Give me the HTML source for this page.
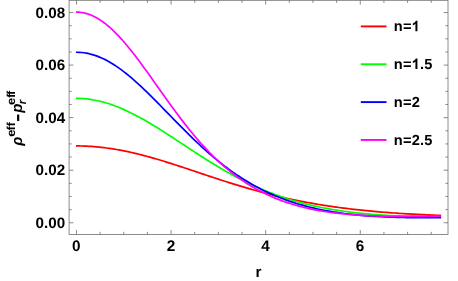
<!DOCTYPE html>
<html><head><meta charset="utf-8"><title>plot</title>
<style>
html,body{margin:0;padding:0;background:#fff;}
body{width:458px;height:281px;overflow:hidden;}
svg{display:block;will-change:transform;}
text{font-family:"Liberation Sans",sans-serif;font-weight:bold;fill:#000;text-rendering:geometricPrecision;}
</style></head>
<body>
<svg width="458" height="281" viewBox="0 0 458 281">
<rect x="0" y="0" width="458" height="281" fill="#ffffff"/>
<g transform="translate(0,0.2)"><path d="M76.0,145.75 L76.5,145.75 L79.0,145.77 L81.5,145.81 L84.0,145.88 L86.5,145.98 L89.0,146.11 L91.5,146.27 L94.0,146.45 L96.5,146.66 L99.0,146.90 L101.5,147.17 L104.0,147.46 L106.5,147.78 L109.0,148.12 L111.5,148.49 L114.0,148.89 L116.5,149.31 L119.0,149.75 L121.5,150.22 L124.0,150.71 L126.5,151.22 L129.0,151.75 L131.5,152.31 L134.0,152.88 L136.5,153.48 L139.0,154.09 L141.5,154.72 L144.0,155.37 L146.5,156.04 L149.0,156.72 L151.5,157.41 L154.0,158.13 L156.5,158.85 L159.0,159.59 L161.5,160.34 L164.0,161.10 L166.5,161.88 L169.0,162.66 L171.5,163.45 L174.0,164.25 L176.5,165.06 L179.0,165.87 L181.5,166.70 L184.0,167.52 L186.5,168.35 L189.0,169.18 L191.5,170.02 L194.0,170.86 L196.5,171.69 L199.0,172.53 L201.5,173.37 L204.0,174.21 L206.5,175.04 L209.0,175.88 L211.5,176.71 L214.0,177.54 L216.5,178.36 L219.0,179.18 L221.5,179.99 L224.0,180.79 L226.5,181.59 L229.0,182.39 L231.5,183.17 L234.0,183.95 L236.5,184.72 L239.0,185.48 L241.5,186.23 L244.0,186.98 L246.5,187.71 L249.0,188.44 L251.5,189.15 L254.0,189.85 L256.5,190.55 L259.0,191.23 L261.5,191.90 L264.0,192.56 L266.5,193.21 L269.0,193.85 L271.5,194.48 L274.0,195.10 L276.5,195.70 L279.0,196.30 L281.5,196.88 L284.0,197.45 L286.5,198.01 L289.0,198.56 L291.5,199.10 L294.0,199.63 L296.5,200.14 L299.0,200.65 L301.5,201.14 L304.0,201.62 L306.5,202.10 L309.0,202.56 L311.5,203.01 L314.0,203.45 L316.5,203.88 L319.0,204.30 L321.5,204.70 L324.0,205.10 L326.5,205.49 L329.0,205.87 L331.5,206.24 L334.0,206.60 L336.5,206.95 L339.0,207.29 L341.5,207.63 L344.0,207.95 L346.5,208.26 L349.0,208.57 L351.5,208.87 L354.0,209.16 L356.5,209.44 L359.0,209.71 L361.5,209.98 L364.0,210.24 L366.5,210.49 L369.0,210.73 L371.5,210.97 L374.0,211.20 L376.5,211.42 L379.0,211.63 L381.5,211.84 L384.0,212.04 L386.5,212.24 L389.0,212.43 L391.5,212.61 L394.0,212.79 L396.5,212.96 L399.0,213.13 L401.5,213.29 L404.0,213.44 L406.5,213.59 L409.0,213.74 L411.5,213.88 L414.0,214.02 L416.5,214.15 L419.0,214.27 L421.5,214.39 L424.0,214.51 L426.5,214.62 L429.0,214.73 L431.5,214.84 L434.0,214.94 L436.5,215.03 L439.0,215.13 L441.1,215.20" stroke="#ff0000" stroke-width="1.7" fill="none" stroke-linejoin="round"/><path d="M76.0,98.18 L76.5,98.18 L79.0,98.21 L81.5,98.31 L84.0,98.47 L86.5,98.70 L89.0,99.00 L91.5,99.36 L94.0,99.78 L96.5,100.26 L99.0,100.81 L101.5,101.42 L104.0,102.09 L106.5,102.81 L109.0,103.59 L111.5,104.43 L114.0,105.32 L116.5,106.27 L119.0,107.26 L121.5,108.31 L124.0,109.40 L126.5,110.54 L129.0,111.72 L131.5,112.94 L134.0,114.21 L136.5,115.51 L139.0,116.85 L141.5,118.22 L144.0,119.62 L146.5,121.06 L149.0,122.52 L151.5,124.01 L154.0,125.53 L156.5,127.06 L159.0,128.62 L161.5,130.19 L164.0,131.78 L166.5,133.39 L169.0,135.01 L171.5,136.63 L174.0,138.27 L176.5,139.91 L179.0,141.56 L181.5,143.21 L184.0,144.86 L186.5,146.51 L189.0,148.15 L191.5,149.79 L194.0,151.43 L196.5,153.06 L199.0,154.68 L201.5,156.28 L204.0,157.88 L206.5,159.46 L209.0,161.03 L211.5,162.58 L214.0,164.11 L216.5,165.62 L219.0,167.12 L221.5,168.59 L224.0,170.05 L226.5,171.48 L229.0,172.89 L231.5,174.27 L234.0,175.63 L236.5,176.97 L239.0,178.28 L241.5,179.57 L244.0,180.83 L246.5,182.07 L249.0,183.27 L251.5,184.46 L254.0,185.61 L256.5,186.74 L259.0,187.84 L261.5,188.92 L264.0,189.97 L266.5,190.99 L269.0,191.99 L271.5,192.96 L274.0,193.90 L276.5,194.82 L279.0,195.71 L281.5,196.58 L284.0,197.42 L286.5,198.24 L289.0,199.03 L291.5,199.80 L294.0,200.54 L296.5,201.26 L299.0,201.96 L301.5,202.64 L304.0,203.29 L306.5,203.92 L309.0,204.53 L311.5,205.12 L314.0,205.69 L316.5,206.24 L319.0,206.77 L321.5,207.28 L324.0,207.78 L326.5,208.25 L329.0,208.70 L331.5,209.14 L334.0,209.56 L336.5,209.97 L339.0,210.35 L341.5,210.73 L344.0,211.08 L346.5,211.42 L349.0,211.75 L351.5,212.06 L354.0,212.36 L356.5,212.65 L359.0,212.92 L361.5,213.18 L364.0,213.42 L366.5,213.66 L369.0,213.88 L371.5,214.09 L374.0,214.29 L376.5,214.48 L379.0,214.66 L381.5,214.83 L384.0,214.99 L386.5,215.14 L389.0,215.28 L391.5,215.41 L394.0,215.54 L396.5,215.65 L399.0,215.76 L401.5,215.86 L404.0,215.95 L406.5,216.04 L409.0,216.12 L411.5,216.19 L414.0,216.25 L416.5,216.31 L419.0,216.37 L421.5,216.41 L424.0,216.45 L426.5,216.49 L429.0,216.52 L431.5,216.54 L434.0,216.57 L436.5,216.58 L439.0,216.59 L441.1,216.60" stroke="#00ff00" stroke-width="1.7" fill="none" stroke-linejoin="round"/><path d="M76.0,52.06 L76.5,52.06 L79.0,52.12 L81.5,52.29 L84.0,52.58 L86.5,52.98 L89.0,53.50 L91.5,54.13 L94.0,54.87 L96.5,55.71 L99.0,56.67 L101.5,57.73 L104.0,58.90 L106.5,60.17 L109.0,61.53 L111.5,62.99 L114.0,64.55 L116.5,66.19 L119.0,67.92 L121.5,69.73 L124.0,71.62 L126.5,73.59 L129.0,75.62 L131.5,77.73 L134.0,79.89 L136.5,82.11 L139.0,84.39 L141.5,86.71 L144.0,89.08 L146.5,91.49 L149.0,93.94 L151.5,96.41 L154.0,98.92 L156.5,101.44 L159.0,103.98 L161.5,106.54 L164.0,109.10 L166.5,111.68 L169.0,114.25 L171.5,116.82 L174.0,119.39 L176.5,121.94 L179.0,124.48 L181.5,127.01 L184.0,129.52 L186.5,132.01 L189.0,134.47 L191.5,136.91 L194.0,139.32 L196.5,141.70 L199.0,144.04 L201.5,146.35 L204.0,148.63 L206.5,150.86 L209.0,153.06 L211.5,155.22 L214.0,157.33 L216.5,159.41 L219.0,161.44 L221.5,163.42 L224.0,165.37 L226.5,167.27 L229.0,169.12 L231.5,170.93 L234.0,172.70 L236.5,174.42 L239.0,176.09 L241.5,177.72 L244.0,179.31 L246.5,180.85 L249.0,182.35 L251.5,183.80 L254.0,185.22 L256.5,186.58 L259.0,187.91 L261.5,189.20 L264.0,190.44 L266.5,191.65 L269.0,192.82 L271.5,193.94 L274.0,195.03 L276.5,196.09 L279.0,197.10 L281.5,198.09 L284.0,199.03 L286.5,199.94 L289.0,200.82 L291.5,201.67 L294.0,202.48 L296.5,203.27 L299.0,204.02 L301.5,204.74 L304.0,205.44 L306.5,206.11 L309.0,206.75 L311.5,207.36 L314.0,207.95 L316.5,208.51 L319.0,209.05 L321.5,209.57 L324.0,210.06 L326.5,210.53 L329.0,210.98 L331.5,211.41 L334.0,211.82 L336.5,212.21 L339.0,212.58 L341.5,212.93 L344.0,213.27 L346.5,213.59 L349.0,213.89 L351.5,214.17 L354.0,214.44 L356.5,214.70 L359.0,214.94 L361.5,215.16 L364.0,215.38 L366.5,215.58 L369.0,215.76 L371.5,215.94 L374.0,216.10 L376.5,216.25 L379.0,216.40 L381.5,216.53 L384.0,216.65 L386.5,216.76 L389.0,216.86 L391.5,216.96 L394.0,217.04 L396.5,217.12 L399.0,217.19 L401.5,217.25 L404.0,217.30 L406.5,217.35 L409.0,217.39 L411.5,217.42 L414.0,217.45 L416.5,217.47 L419.0,217.49 L421.5,217.50 L424.0,217.51 L426.5,217.51 L429.0,217.50 L431.5,217.49 L434.0,217.48 L436.5,217.46 L439.0,217.44 L441.1,217.42" stroke="#0000ff" stroke-width="1.7" fill="none" stroke-linejoin="round"/><path d="M76.0,11.93 L76.5,11.93 L79.0,12.02 L81.5,12.29 L84.0,12.73 L86.5,13.36 L89.0,14.16 L91.5,15.13 L94.0,16.28 L96.5,17.59 L99.0,19.07 L101.5,20.70 L104.0,22.50 L106.5,24.44 L109.0,26.53 L111.5,28.76 L114.0,31.12 L116.5,33.61 L119.0,36.23 L121.5,38.96 L124.0,41.79 L126.5,44.73 L129.0,47.76 L131.5,50.87 L134.0,54.06 L136.5,57.32 L139.0,60.65 L141.5,64.02 L144.0,67.44 L146.5,70.90 L149.0,74.39 L151.5,77.91 L154.0,81.44 L156.5,84.97 L159.0,88.51 L161.5,92.04 L164.0,95.56 L166.5,99.07 L169.0,102.55 L171.5,106.00 L174.0,109.42 L176.5,112.80 L179.0,116.14 L181.5,119.43 L184.0,122.67 L186.5,125.86 L189.0,128.99 L191.5,132.07 L194.0,135.08 L196.5,138.03 L199.0,140.92 L201.5,143.74 L204.0,146.49 L206.5,149.18 L209.0,151.79 L211.5,154.34 L214.0,156.82 L216.5,159.24 L219.0,161.58 L221.5,163.85 L224.0,166.06 L226.5,168.20 L229.0,170.27 L231.5,172.28 L234.0,174.22 L236.5,176.10 L239.0,177.92 L241.5,179.67 L244.0,181.37 L246.5,183.00 L249.0,184.58 L251.5,186.10 L254.0,187.56 L256.5,188.97 L259.0,190.33 L261.5,191.63 L264.0,192.89 L266.5,194.10 L269.0,195.26 L271.5,196.37 L274.0,197.43 L276.5,198.46 L279.0,199.44 L281.5,200.38 L284.0,201.28 L286.5,202.14 L289.0,202.97 L291.5,203.75 L294.0,204.51 L296.5,205.23 L299.0,205.91 L301.5,206.56 L304.0,207.19 L306.5,207.78 L309.0,208.35 L311.5,208.88 L314.0,209.39 L316.5,209.88 L319.0,210.34 L321.5,210.78 L324.0,211.19 L326.5,211.58 L329.0,211.95 L331.5,212.30 L334.0,212.63 L336.5,212.94 L339.0,213.23 L341.5,213.50 L344.0,213.76 L346.5,214.00 L349.0,214.22 L351.5,214.43 L354.0,214.63 L356.5,214.81 L359.0,214.97 L361.5,215.13 L364.0,215.27 L366.5,215.40 L369.0,215.52 L371.5,215.63 L374.0,215.73 L376.5,215.82 L379.0,215.90 L381.5,215.97 L384.0,216.03 L386.5,216.08 L389.0,216.13 L391.5,216.16 L394.0,216.19 L396.5,216.22 L399.0,216.23 L401.5,216.24 L404.0,216.25 L406.5,216.25 L409.0,216.24 L411.5,216.23 L414.0,216.21 L416.5,216.19 L419.0,216.17 L421.5,216.14 L424.0,216.10 L426.5,216.06 L429.0,216.02 L431.5,215.98 L434.0,215.93 L436.5,215.88 L439.0,215.83 L441.1,215.78" stroke="#ff00ff" stroke-width="1.7" fill="none" stroke-linejoin="round"/></g>
<rect x="69.08" y="0.3" width="378.92" height="234.11999999999998" fill="none" stroke="#666666" stroke-width="0.75"/>
<path d="M76.48,234.42 v-4.4 M76.48,0.3 v4.4 M100.13,234.42 v-2.6 M100.13,0.3 v2.6 M123.78,234.42 v-2.6 M123.78,0.3 v2.6 M147.43,234.42 v-2.6 M147.43,0.3 v2.6 M171.08,234.42 v-4.4 M171.08,0.3 v4.4 M194.73,234.42 v-2.6 M194.73,0.3 v2.6 M218.38,234.42 v-2.6 M218.38,0.3 v2.6 M242.03,234.42 v-2.6 M242.03,0.3 v2.6 M265.68,234.42 v-4.4 M265.68,0.3 v4.4 M289.33,234.42 v-2.6 M289.33,0.3 v2.6 M312.98,234.42 v-2.6 M312.98,0.3 v2.6 M336.63,234.42 v-2.6 M336.63,0.3 v2.6 M360.28,234.42 v-4.4 M360.28,0.3 v4.4 M383.93,234.42 v-2.6 M383.93,0.3 v2.6 M407.58,234.42 v-2.6 M407.58,0.3 v2.6 M431.23,234.42 v-2.6 M431.23,0.3 v2.6 M69.08,222.75 h4.4 M448.0,222.75 h-4.4 M69.08,209.61 h2.6 M448.0,209.61 h-2.6 M69.08,196.47 h2.6 M448.0,196.47 h-2.6 M69.08,183.34 h2.6 M448.0,183.34 h-2.6 M69.08,170.20 h4.4 M448.0,170.20 h-4.4 M69.08,157.06 h2.6 M448.0,157.06 h-2.6 M69.08,143.93 h2.6 M448.0,143.93 h-2.6 M69.08,130.79 h2.6 M448.0,130.79 h-2.6 M69.08,117.65 h4.4 M448.0,117.65 h-4.4 M69.08,104.51 h2.6 M448.0,104.51 h-2.6 M69.08,91.38 h2.6 M448.0,91.38 h-2.6 M69.08,78.24 h2.6 M448.0,78.24 h-2.6 M69.08,65.10 h4.4 M448.0,65.10 h-4.4 M69.08,51.96 h2.6 M448.0,51.96 h-2.6 M69.08,38.82 h2.6 M448.0,38.82 h-2.6 M69.08,25.69 h2.6 M448.0,25.69 h-2.6 M69.08,12.55 h4.4 M448.0,12.55 h-4.4" stroke="#666666" stroke-width="0.75" fill="none"/>
<g><text transform="translate(76.28,251.3)" font-size="15.3" text-anchor="middle">0</text><text transform="translate(170.88,251.3)" font-size="15.3" text-anchor="middle">2</text><text transform="translate(265.48,251.3)" font-size="15.3" text-anchor="middle">4</text><text transform="translate(360.08,251.3)" font-size="15.3" text-anchor="middle">6</text><text transform="translate(65.1,227.95)" font-size="15.2" text-anchor="end">0.00</text><text transform="translate(65.1,175.40)" font-size="15.2" text-anchor="end">0.02</text><text transform="translate(65.1,122.85)" font-size="15.2" text-anchor="end">0.04</text><text transform="translate(65.1,70.30)" font-size="15.2" text-anchor="end">0.06</text><text transform="translate(65.1,17.75)" font-size="15.2" text-anchor="end">0.08</text></g>
<text x="258.4" y="276.8" font-size="15.2" text-anchor="middle">r</text>
<g><path d="M360.8,26.4 H386.5" stroke="#ff0000" stroke-width="1.9" fill="none"/><text x="393.8" y="31.25" font-size="14.6" letter-spacing="0.22">n=</text><path d="M806 0H525V1059Q371 915 162 846V1101Q272 1137 401 1237.5Q530 1338 578 1472H806Z" transform="translate(411.69,31.25) scale(0.007129,-0.007129)" fill="#000"/><path d="M360.8,64.25 H386.5" stroke="#00ff00" stroke-width="1.9" fill="none"/><text x="393.8" y="69.10" font-size="14.6" letter-spacing="0.22">n=</text><path d="M806 0H525V1059Q371 915 162 846V1101Q272 1137 401 1237.5Q530 1338 578 1472H806Z" transform="translate(411.69,69.10) scale(0.007129,-0.007129)" fill="#000"/><text x="420.02" y="69.10" font-size="14.6" letter-spacing="0.22">.5</text><path d="M360.8,102.1 H386.5" stroke="#0000ff" stroke-width="1.9" fill="none"/><text x="393.8" y="106.95" font-size="14.6" letter-spacing="0.22">n=2</text><path d="M360.8,139.95 H386.5" stroke="#ff00ff" stroke-width="1.9" fill="none"/><text x="393.8" y="144.80" font-size="14.6" letter-spacing="0.22">n=2.5</text></g>
<g transform="translate(22.1,145.65) rotate(-90)">
<text x="0" y="0" font-size="15" font-style="italic">ρ</text>
<text transform="translate(8.95,-7.1) scale(1.12,1)" font-size="11.6">e</text>
<text x="15.5" y="-7.1" font-size="11.6" letter-spacing="0.14">ff</text>
<rect x="24.7" y="-5.05" width="6.4" height="2.2" fill="#000"/>
<text x="32.9" y="0" font-size="15" font-style="italic">p</text>
<text x="41.5" y="4.3" font-size="11.6" font-style="italic">r</text>
<text transform="translate(40.75,-7.1) scale(1.12,1)" font-size="11.6">e</text>
<text x="47.85" y="-7.1" font-size="11.6" letter-spacing="-0.9">ff</text>
</g>
</svg>
</body></html>
